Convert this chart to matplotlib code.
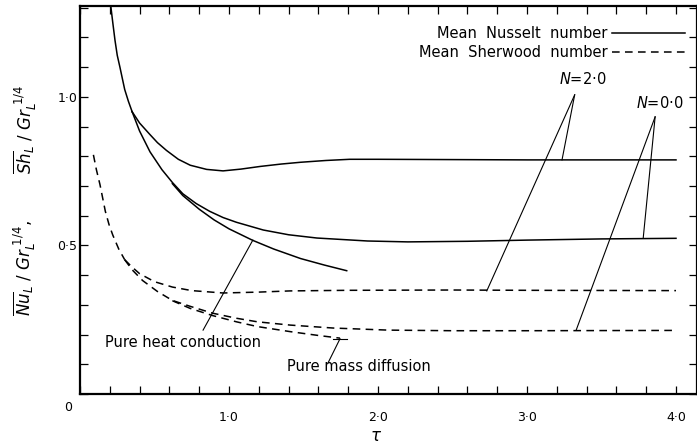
import matplotlib.pyplot as plt

# curvas (tau, Nu/Gr^1/4 o Sh/Gr^1/4)
tau_nu_comun = [0.208, 0.22, 0.235, 0.25, 0.268, 0.285, 0.30, 0.325, 0.35]
nu_comun = [1.30, 1.25, 1.19, 1.14, 1.10, 1.06, 1.025, 0.985, 0.950]

tau_nu_n2 = [0.35, 0.40, 0.47, 0.52, 0.58, 0.66, 0.74, 0.85, 0.96, 1.08, 1.21, 1.35, 1.48, 1.65, 1.81, 2.0, 2.5, 3.0, 3.5, 4.0]
nu_n2 = [0.950, 0.912, 0.873, 0.846, 0.820, 0.790, 0.770, 0.756, 0.751, 0.757, 0.766, 0.774, 0.780, 0.786, 0.790, 0.790, 0.789, 0.788, 0.788, 0.788]

tau_nu_n0 = [0.35, 0.40, 0.47, 0.55, 0.62, 0.69, 0.78, 0.87, 0.96, 1.05, 1.23, 1.40, 1.59, 1.93, 2.2, 2.6, 3.0, 3.5, 4.0]
nu_n0 = [0.950, 0.885, 0.815, 0.755, 0.712, 0.674, 0.641, 0.615, 0.594, 0.578, 0.552, 0.536, 0.525, 0.515, 0.512, 0.514, 0.518, 0.522, 0.524]

tau_cond = [0.62, 0.69, 0.80, 0.90, 1.0, 1.16, 1.30, 1.48, 1.64, 1.79]
nu_cond = [0.708, 0.668, 0.622, 0.586, 0.556, 0.517, 0.488, 0.456, 0.434, 0.415]

tau_sh_comun = [0.09, 0.11, 0.134, 0.15, 0.17, 0.195, 0.22, 0.26, 0.30]
sh_comun = [0.805, 0.755, 0.705, 0.665, 0.615, 0.570, 0.535, 0.488, 0.452]

tau_sh_n2 = [0.30, 0.35, 0.40, 0.50, 0.62, 0.75, 0.96, 1.2, 1.41, 1.8, 2.5, 3.0, 4.0]
sh_n2 = [0.452, 0.427, 0.405, 0.378, 0.360, 0.348, 0.340, 0.343, 0.347, 0.349, 0.350, 0.349, 0.348]

tau_sh_n0 = [0.30, 0.35, 0.42, 0.52, 0.62, 0.74, 0.89, 1.05, 1.19, 1.41, 1.7, 2.07, 2.5, 3.0, 4.0]
sh_n0 = [0.452, 0.418, 0.382, 0.345, 0.315, 0.295, 0.272, 0.255, 0.243, 0.232, 0.222, 0.215, 0.213, 0.213, 0.214]

tau_dif = [0.62, 0.74, 0.89, 1.05, 1.19, 1.41, 1.60, 1.745]
sh_dif = [0.314, 0.288, 0.264, 0.243, 0.227, 0.210, 0.197, 0.188]

# lineas de referencia (vertice del texto -> curva)
lider_n2 = [(3.32, 1.007), (3.235, 0.788), (2.73, 0.347)]
lider_n0 = [(3.86, 0.933), (3.78, 0.525), (3.33, 0.215)]
lider_cond = [(1.16, 0.518), (0.826, 0.215)]
lider_dif = [(1.745, 0.186), (1.664, 0.104)]

fig = plt.figure(figsize=(6.97, 4.48), dpi=100)
ax = fig.add_axes([80 / 697, 54 / 448, 617 / 697, 388 / 448])

lw = 1.1
guion = (0, (5, 3.5))
for t, v in [(tau_nu_comun, nu_comun), (tau_nu_n2, nu_n2), (tau_nu_n0, nu_n0), (tau_cond, nu_cond)]:
    ax.plot(t, v, color='black', lw=lw)
for t, v in [(tau_sh_comun, sh_comun), (tau_sh_n2, sh_n2), (tau_sh_n0, sh_n0), (tau_dif, sh_dif)]:
    ax.plot(t, v, color='black', lw=lw, linestyle=guion)

# lineas de los rotulos
for lider in [lider_n2, lider_n0]:
    vx, vy = lider[0]
    for px, py in lider[1:]:
        ax.plot([vx, px], [vy, py], color='black', lw=0.8)
for lider in [lider_cond, lider_dif]:
    ax.plot([p[0] for p in lider], [p[1] for p in lider], color='black', lw=0.8)
ax.plot([1.70, 1.79], [0.186, 0.186], color='black', lw=0.8)

fs = 10.5
ax.text(0.17, 0.172, "Pure heat conduction", fontsize=fs, va='center', ha='left')
ax.text(1.39, 0.091, "Pure mass diffusion", fontsize=fs, va='center', ha='left')
ax.text(3.54, 1.215, "Mean  Nusselt  number", fontsize=fs, va='center', ha='right')
ax.text(3.54, 1.150, "Mean  Sherwood  number", fontsize=fs, va='center', ha='right')
ax.plot([3.57, 4.06], [1.215, 1.215], color='black', lw=lw)
ax.plot([3.57, 4.06], [1.150, 1.150], color='black', lw=lw, linestyle=guion)
ax.text(3.376, 1.06, r"$N$=2·0", fontsize=fs, va='center', ha='center')
ax.text(3.89, 0.98, r"$N$=0·0", fontsize=fs, va='center', ha='center')

ax.set_xlim(0, 617 / 149)
ax.set_ylim(0, 1.306)
ax.set_xticks([0, 1, 2, 3, 4])
ax.set_xticklabels(["", "1·0", "2·0", "3·0", "4·0"])
ax.set_xticks([i * 0.2 for i in range(21)], minor=True)
ax.set_yticks([0, 0.5, 1.0])
ax.set_yticklabels(["", "0·5", "1·0"])
ax.set_yticks([i * 0.1 for i in range(14)], minor=True)
ax.tick_params(which='both', direction='in', length=6, width=0.9, top=True, right=True, labelsize=9)
ax.tick_params(axis='x', which='both', pad=12)
ax.tick_params(axis='y', which='both', pad=2)
for s in ax.spines.values():
    s.set_linewidth(1.6)
ax.text(-0.08, -0.045, "0", fontsize=9, ha='center', va='center', clip_on=False)

fig.text(376 / 697, 1 - 436 / 448, r"$\tau$", fontsize=12, ha='center', va='center')
fig.text(25 / 697, 1 - 129 / 448, r"$\overline{Sh}_L\ /\ Gr_L^{\ 1/4}$", rotation=90,
         fontsize=12, ha='center', va='center')
fig.text(25 / 697, 1 - 268 / 448, r"$\overline{Nu}_L\ /\ Gr_L^{\ 1/4},$", rotation=90,
         fontsize=12, ha='center', va='center')

fig.savefig("out.png", dpi=100)
